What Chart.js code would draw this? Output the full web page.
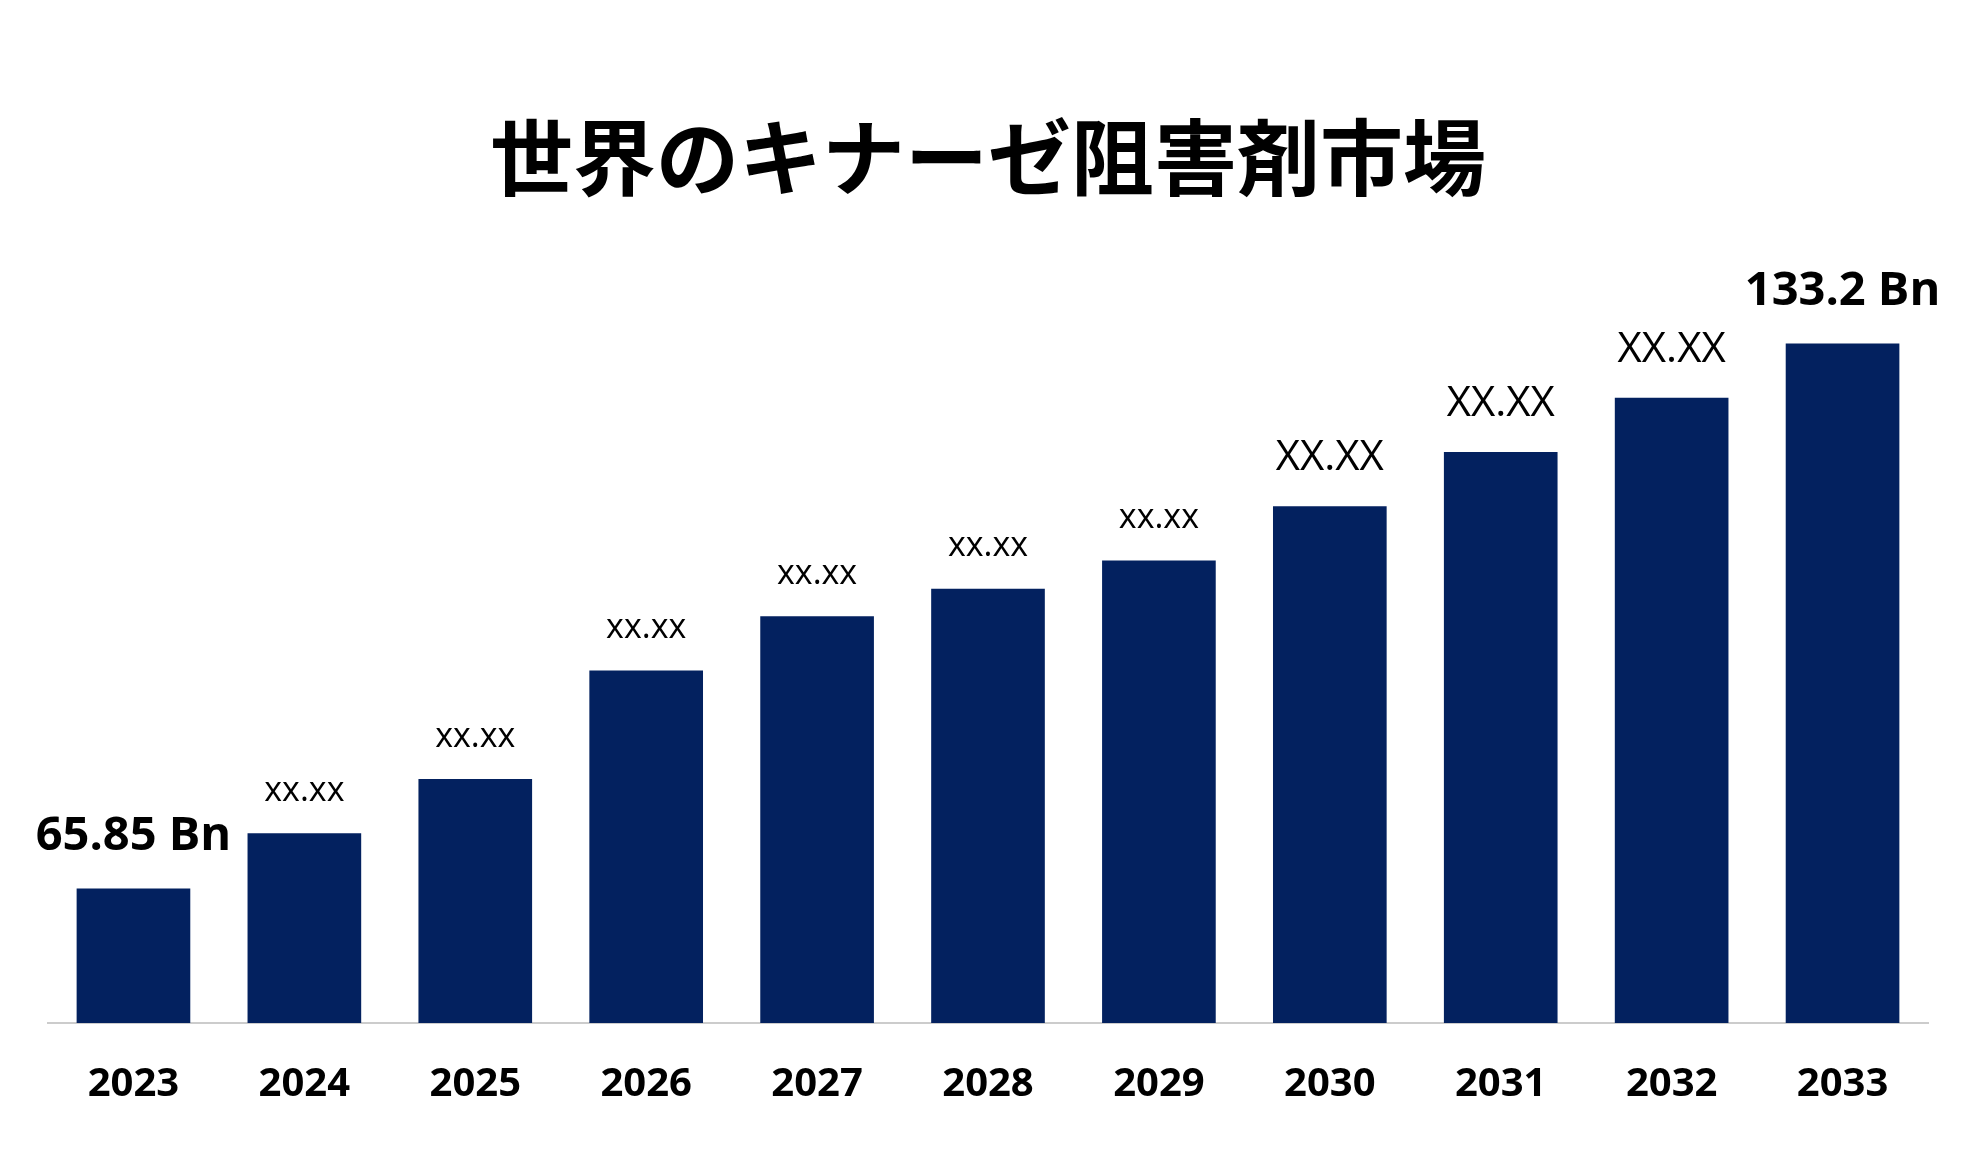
<!DOCTYPE html>
<html><head><meta charset="utf-8">
<script src="https://cdn.jsdelivr.net/npm/chart.js@4"></script>
<style>html,body{margin:0;background:#fff}#w{width:1980px;height:1155px}</style>
</head><body><div id="w"><canvas id="c"></canvas></div>
<script>
const years=['2023','2024','2025','2026','2027','2028','2029','2030','2031','2032','2033'];
const values=[65.85,72.7,79.4,92.8,99.5,102.9,106.4,113.1,119.8,126.5,133.2];
const labels=['65.85 Bn','xx.xx','xx.xx','xx.xx','xx.xx','xx.xx','xx.xx','XX.XX','XX.XX','XX.XX','133.2 Bn'];
const labelSizes=[47,34,34,34,34,34,34,42,42,42,47];
const labelBold=[true,false,false,false,false,false,false,false,false,false,true];
const labelGap=[52,42,42,42,42,42,42,48,48,48,52];
const lab={id:'lab',afterDatasetsDraw(ch){const ctx=ch.ctx;const m=ch.getDatasetMeta(0);
ctx.save();ctx.textAlign='center';ctx.textBaseline='middle';ctx.fillStyle='#000';
m.data.forEach((b,i)=>{ctx.font=(labelBold[i]?'bold ':'')+labelSizes[i]+'px "Open Sans","Noto Sans",sans-serif';
ctx.fillText(labels[i],b.x,b.y-labelGap[i]);});ctx.restore();}};
new Chart(document.getElementById('c'),{type:'bar',
data:{labels:years,datasets:[{data:values,backgroundColor:'#03215f',categoryPercentage:0.665,barPercentage:1}]},
options:{responsive:true,maintainAspectRatio:false,animation:false,
layout:{padding:{left:48,right:52,top:0,bottom:16}},
plugins:{legend:{display:false},tooltip:{enabled:false},
title:{display:true,text:'世界のキナーゼ阻害剤市場',color:'#000',font:{size:83,weight:'bold',family:'"Noto Sans CJK JP"'},padding:{top:108,bottom:0}}},
scales:{y:{display:false,min:49.24,max:150},
x:{grid:{display:false},border:{color:'#cccccc',width:2},
ticks:{color:'#000',padding:30,font:{size:40,weight:'bold',family:'"Open Sans","Noto Sans",sans-serif'}}}}},
plugins:[lab]});
</script></body></html>
